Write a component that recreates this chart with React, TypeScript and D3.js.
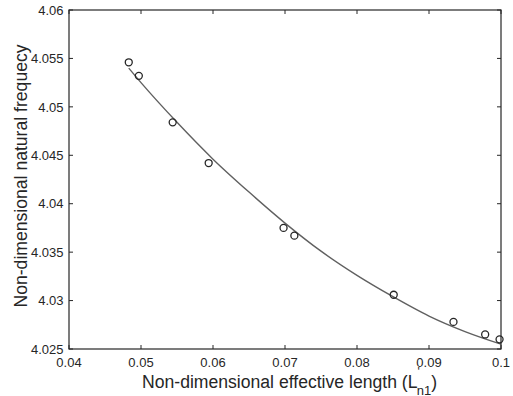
import React from "react";
import * as d3 from "d3";

const pointX = [0.0483, 0.0497, 0.0544, 0.0594, 0.0698, 0.0713, 0.0851, 0.0934, 0.0978, 0.0998];
const pointY = [4.0546, 4.0532, 4.0484, 4.0442, 4.0375, 4.0367, 4.0306, 4.0278, 4.0265, 4.0260];

const fitX = [0.0483, 0.05, 0.055, 0.06, 0.065, 0.07, 0.075, 0.08, 0.085, 0.09, 0.095, 0.1];
const fitY = [4.0540, 4.0525, 4.0484, 4.0446, 4.0412, 4.0380, 4.0351, 4.0326, 4.0304, 4.0284, 4.0268, 4.0255];

const xTicks = [0.04, 0.05, 0.06, 0.07, 0.08, 0.09, 0.1];
const yTicks = [4.025, 4.03, 4.035, 4.04, 4.045, 4.05, 4.055, 4.06];

const W = 513, H = 396;
const L = 69, R = 501, T = 10, B = 349;
const FONT = "'Liberation Sans', Arial, Helvetica, sans-serif";

export default function App() {
  const x = d3.scaleLinear().domain([0.04, 0.1]).range([L, R]);
  const y = d3.scaleLinear().domain([4.025, 4.06]).range([B, T]);
  const line = d3.line<number>().x((d, i) => x(fitX[i])).y((d) => y(d)).curve(d3.curveMonotoneX);
  const tl = 4;
  const fmt = (v: number) => String(+v.toFixed(3));
  return (
    <svg width={W} height={H} style={{ position: "absolute", left: 0, top: 0, background: "#fff" }} fontFamily={FONT}>
      <path d={line(fitY) || ""} fill="none" stroke="#606060" strokeWidth={1.4} />
      {pointX.map((px, i) => (
        <circle key={i} cx={x(px)} cy={y(pointY[i])} r={3.5} fill="none" stroke="#262626" strokeWidth={1.3} />
      ))}
      {xTicks.map((t) => (
        <g key={"x" + t}>
          <line x1={x(t)} x2={x(t)} y1={B} y2={B - tl} stroke="#262626" />
          <line x1={x(t)} x2={x(t)} y1={T} y2={T + tl} stroke="#262626" />
          <text x={x(t)} y={B + 18} textAnchor="middle" fontSize={13} fill="#262626">{fmt(t)}</text>
        </g>
      ))}
      {yTicks.map((t) => (
        <g key={"y" + t}>
          <line x1={L} x2={L + tl} y1={y(t)} y2={y(t)} stroke="#262626" />
          <line x1={R} x2={R - tl} y1={y(t)} y2={y(t)} stroke="#262626" />
          <text x={L - 5.5} y={y(t) + 4.7} textAnchor="end" fontSize={13} fill="#262626">{fmt(t)}</text>
        </g>
      ))}
      <rect x={L} y={T} width={R - L} height={B - T} fill="none" stroke="#262626" strokeWidth={1.2} />
      <text x={142} y={388} textAnchor="start" fontSize={17.6} fill="#262626">
        Non-dimensional effective length (L
        <tspan fontSize={12} dy={-12} dx={0}>'</tspan>
        <tspan fontSize={13} dy={19} dx={-3}>n1</tspan>
        <tspan dy={-7}>)</tspan>
      </text>
      <text transform={`translate(26.5, ${176}) rotate(-90)`} textAnchor="middle" fontSize={17.6} fill="#262626">
        Non-dimensional natural frequecy
      </text>
    </svg>
  );
}
